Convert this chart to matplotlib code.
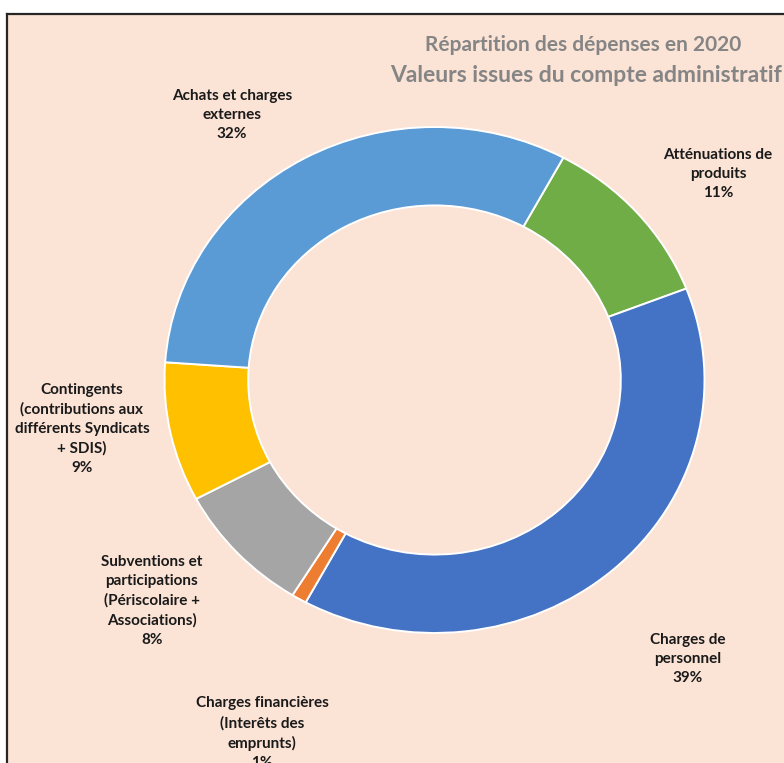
import matplotlib.pyplot as plt

# slices in clockwise order, starting from the top-right edge of the light blue one
names = [
    "Atténuations de\nproduits",
    "Charges de\npersonnel",
    "Charges financières\n(Interêts des\nemprunts)",
    "Subventions et\nparticipations\n(Périscolaire +\nAssociations)",
    "Contingents\n(contributions aux\ndifférents Syndicats\n+ SDIS)",
    "Achats et charges\nexternes",
]
values = [11.2, 38.8, 0.9, 8.4, 8.9, 31.8]
pct_labels = ["11%", "39%", "1%", "8%", "9%", "32%"]
colors = ["#70AD47", "#4472C4", "#ED7D31", "#A5A5A5", "#FFC000", "#5B9BD5"]

# label centres in pixels (x, y from top)
label_pos = [(718, 174), (688, 659), (262, 733), (152, 601), (82, 429), (232, 115)]

W, H = 784, 763
BG = "#FBE3D6"
FONT = ["Lato", "DejaVu Sans"]

fig = plt.figure(figsize=(W / 100, H / 100), dpi=100, facecolor="white")

# framed peach background, cropped at right and bottom
bg = fig.add_axes([7 / W, -0.02, 1.05, (H - 14) / H + 0.02])
bg.set_facecolor(BG)
bg.set_xticks([])
bg.set_yticks([])
for side in ["right", "bottom"]:
    bg.spines[side].set_visible(False)
for side in ["left", "top"]:
    bg.spines[side].set_color("#262626")
    bg.spines[side].set_linewidth(1.6)

# donut (slightly stretched horizontally as in the source)
cx, cy, rx, ry = 434.5, 380, 270, 253
ax = fig.add_axes([(cx - rx) / W, (H - cy - ry) / H, 2 * rx / W, 2 * ry / H])
ax.pie(
    values,
    colors=colors,
    startangle=61.5,
    counterclock=False,
    radius=1,
    wedgeprops=dict(width=0.31, edgecolor="#FFFFFF", linewidth=1.4),
)
ax.set_aspect("auto")
ax.set_xlim(-1, 1)
ax.set_ylim(-1, 1)
ax.axis("off")

for name, pct, (x, y) in zip(names, pct_labels, label_pos):
    fig.text(
        x / W, 1 - y / H, name + "\n" + pct,
        ha="center", va="center", multialignment="center",
        fontsize=11, fontweight="bold", family=FONT,
        color="#1A1A1A", linespacing=1.45,
    )

fig.text(583 / W, 1 - 45 / H, "Répartition des dépenses en 2020",
         ha="center", va="center", fontsize=15, fontweight="bold",
         family=FONT, color="#858585")
fig.text(390 / W, 1 - 75 / H, "Valeurs issues du compte administratif",
         ha="left", va="center", fontsize=16.5, fontweight="bold",
         family=FONT, color="#858585")

fig.savefig("out.png", dpi=100, facecolor="white")
